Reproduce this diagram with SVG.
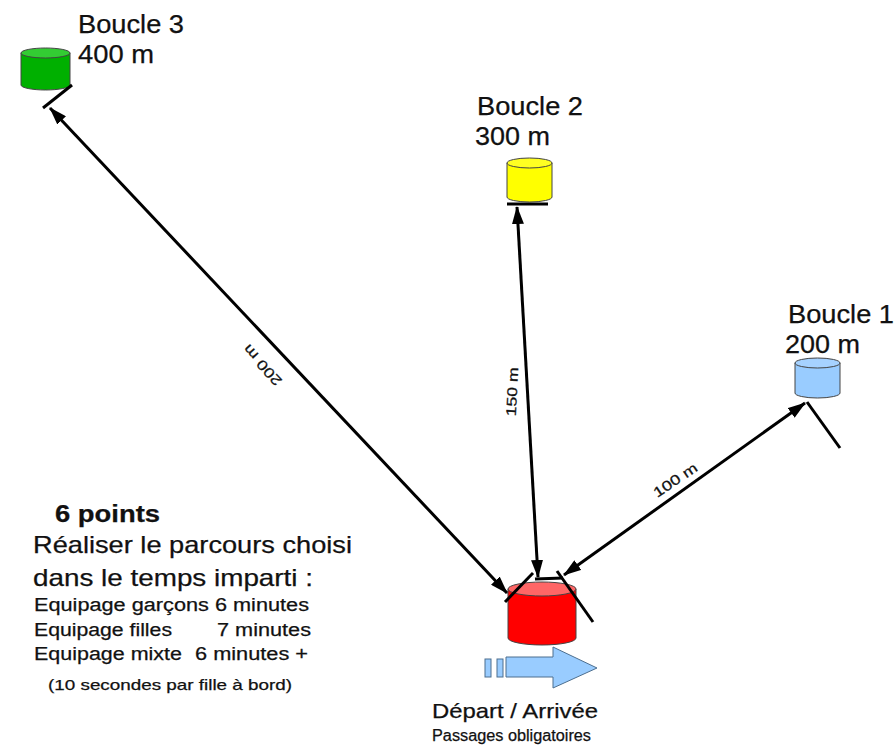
<svg xmlns="http://www.w3.org/2000/svg" width="896" height="754" viewBox="0 0 896 754">
<style>
text{font-family:"Liberation Sans",Arial,sans-serif;fill:#111;stroke:#111;stroke-width:0.25}
.lbl{font-size:25px}
.big{font-size:24px}
.sm{font-size:18px}
.dist{font-size:14px}
.cyl{stroke:#444;stroke-width:1}
.tick{stroke:#000;stroke-width:3;fill:none}
.conn{stroke:#000;stroke-width:3;fill:none;marker-start:url(#ah);marker-end:url(#ah)}
</style>
<defs>
<marker id="ah" viewBox="0 0 18 12" refX="17" refY="6" markerWidth="18" markerHeight="12" markerUnits="userSpaceOnUse" orient="auto-start-reverse">
<path d="M0,0 L18,6 L0,12 z" fill="#000"/>
</marker>
</defs>
<rect width="896" height="754" fill="#fff"/>

<g id="boucle3">
<path class="cyl" d="M21,53 L21,85 A24.5,5 0 0 0 70,85 L70,53 Z" fill="#00b000"/>
<ellipse class="cyl" cx="45.5" cy="53" rx="24.5" ry="5" fill="#33cc33"/>
<line class="tick" x1="43" y1="108" x2="72" y2="85"/>
<text class="lbl" x="78" y="33" textLength="106" lengthAdjust="spacingAndGlyphs">Boucle 3</text>
<text class="lbl" x="78" y="63" textLength="76" lengthAdjust="spacingAndGlyphs">400 m</text>
</g>

<g id="boucle2">
<path class="cyl" d="M507,163 L507,197 A22.5,5 0 0 0 552,197 L552,163 Z" fill="#ffff00"/>
<ellipse class="cyl" cx="529.5" cy="163" rx="22.5" ry="5" fill="#ffff22"/>
<line class="tick" x1="507" y1="204" x2="548" y2="204"/>
<text class="lbl" x="477" y="115" textLength="106" lengthAdjust="spacingAndGlyphs">Boucle 2</text>
<text class="lbl" x="475" y="145" textLength="75" lengthAdjust="spacingAndGlyphs">300 m</text>
</g>

<g id="boucle1">
<path class="cyl" d="M795,363 L795,393 A22.5,5 0 0 0 840,393 L840,363 Z" fill="#99ccff"/>
<ellipse class="cyl" cx="817.5" cy="363" rx="22.5" ry="5" fill="#a6d2ff"/>
<line class="tick" x1="807" y1="402" x2="840" y2="448"/>
<text class="lbl" x="788" y="323" textLength="106" lengthAdjust="spacingAndGlyphs">Boucle 1</text>
<text class="lbl" x="785" y="353" textLength="75" lengthAdjust="spacingAndGlyphs">200 m</text>
</g>

<g id="depart">
<path class="cyl" d="M508,589 L508,638 A34,7 0 0 0 576,638 L576,589 Z" fill="#ff0000"/>
<ellipse class="cyl" cx="542" cy="589" rx="34" ry="7" fill="#ff6666"/>
<line class="tick" x1="505" y1="602" x2="533" y2="573"/>
<line class="tick" x1="535" y1="579" x2="563" y2="578"/>
<line class="tick" x1="557" y1="571" x2="593" y2="622"/>
<g fill="#99ccff" stroke="#4d6f8f" stroke-width="1">
<rect x="485" y="659" width="6" height="18"/>
<rect x="497" y="659" width="6" height="18"/>
<polygon points="506,657 553,657 553,647 597,668 553,688 553,677 506,677"/>
</g>
<text x="432" y="718" font-size="21" textLength="166" lengthAdjust="spacingAndGlyphs">Départ / Arrivée</text>
<text x="432" y="741" font-size="16" textLength="159" lengthAdjust="spacingAndGlyphs">Passages obligatoires</text>
</g>

<g id="consignes">
<text x="55" y="522" font-size="23" font-weight="bold" textLength="105" lengthAdjust="spacingAndGlyphs">6 points</text>
<text class="big" x="33" y="553" textLength="319" lengthAdjust="spacingAndGlyphs">Réaliser le parcours choisi</text>
<text class="big" x="33" y="586" textLength="280" lengthAdjust="spacingAndGlyphs">dans le temps imparti :</text>
<text class="sm" x="34" y="611" textLength="275" lengthAdjust="spacingAndGlyphs">Equipage garçons 6 minutes</text>
<text class="sm" y="636"><tspan x="34" textLength="138" lengthAdjust="spacingAndGlyphs">Equipage filles</tspan><tspan x="217" textLength="94" lengthAdjust="spacingAndGlyphs">7 minutes</tspan></text>
<text class="sm" y="660"><tspan x="34" textLength="148" lengthAdjust="spacingAndGlyphs">Equipage mixte</tspan><tspan x="195" textLength="113" lengthAdjust="spacingAndGlyphs">6 minutes +</tspan></text>
<text x="48" y="690" font-size="15" textLength="244" lengthAdjust="spacingAndGlyphs">(10 secondes par fille à bord)</text>
</g>

<g id="connecteurs">
<line class="conn" x1="50" y1="108" x2="507" y2="593"/>
<line class="conn" x1="517" y1="207" x2="538" y2="577"/>
<line class="conn" x1="805" y1="403" x2="564" y2="575"/>
<text class="dist" transform="translate(266,362) rotate(228)" text-anchor="middle" textLength="50" lengthAdjust="spacingAndGlyphs">200 m</text>
<text class="dist" transform="translate(517,392) rotate(-87)" text-anchor="middle" textLength="49" lengthAdjust="spacingAndGlyphs">150 m</text>
<text class="dist" transform="translate(678,484) rotate(-34)" text-anchor="middle" textLength="50" lengthAdjust="spacingAndGlyphs">100 m</text>
</g>
</svg>
